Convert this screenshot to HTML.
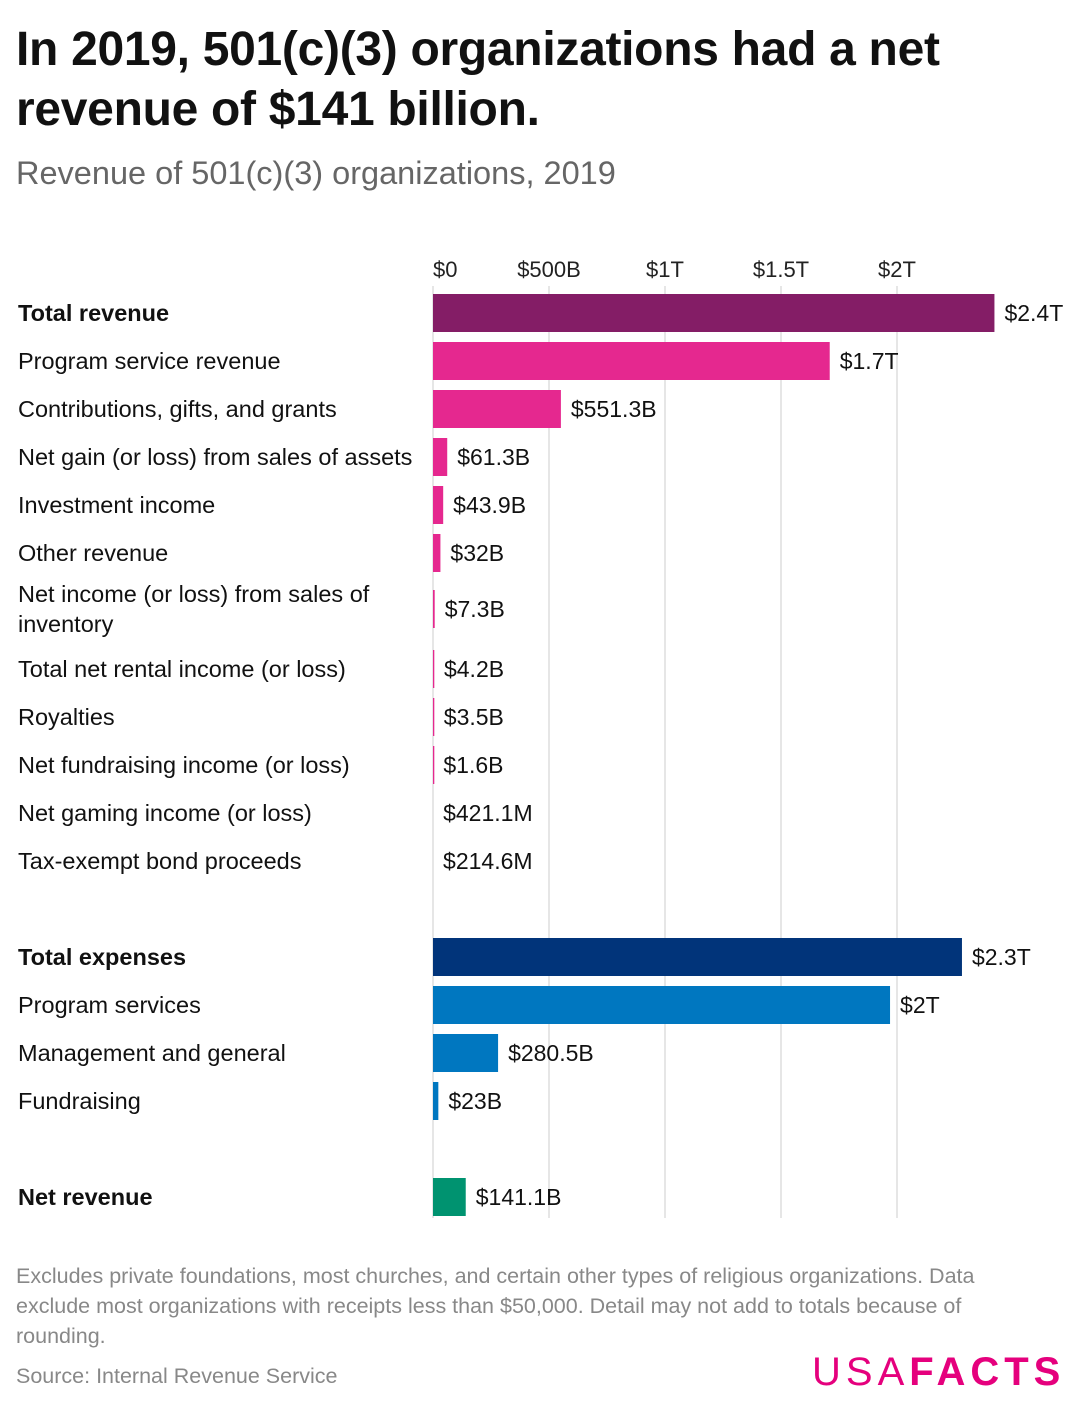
<!DOCTYPE html>
<html><head><meta charset="utf-8"><style>
body{margin:0;width:1080px;height:1410px;background:#fff;font-family:"Liberation Sans",sans-serif;position:relative;overflow:hidden}
.t{position:absolute;left:16px;top:20px;font-size:48px;font-weight:bold;line-height:60px;color:#111;letter-spacing:-0.3px}
.s{position:absolute;left:16px;top:155px;font-size:32.5px;color:#666}
.f{position:absolute;left:16px;top:1261px;font-size:21.5px;line-height:30px;color:#888;width:1010px}
.src{position:absolute;left:16px;top:1364px;font-size:21.5px;color:#888}
.logo{position:absolute;left:812px;top:1350px;font-size:40px;color:#e5007d;letter-spacing:5px}
</style></head><body>
<div class="t">In 2019, 501(c)(3) organizations had a net<br>revenue of $141 billion.</div>
<div class="s">Revenue of 501(c)(3) organizations, 2019</div>
<svg id="c" width="1080" height="1250" style="position:absolute;left:0;top:0"></svg>
<div class="f">Excludes private foundations, most churches, and certain other types of religious organizations. Data exclude most organizations with receipts less than $50,000. Detail may not add to totals because of rounding.</div>
<div class="src">Source: Internal Revenue Service</div>
<div class="logo"><span style="font-weight:300">USA</span><span style="font-weight:bold">FACTS</span></div>
<script>
const labels=["Total revenue","Program service revenue","Contributions, gifts, and grants","Net gain (or loss) from sales of assets","Investment income","Other revenue","Net income (or loss) from sales of|inventory","Total net rental income (or loss)","Royalties","Net fundraising income (or loss)","Net gaming income (or loss)","Tax-exempt bond proceeds","Total expenses","Program services","Management and general","Fundraising","Net revenue"];
const values=[2420,1710,551.3,61.3,43.9,32,7.3,4.2,3.5,1.6,0.4211,0.2146,2280,1970,280.5,23,141.1];
const valueLabels=["$2.4T","$1.7T","$551.3B","$61.3B","$43.9B","$32B","$7.3B","$4.2B","$3.5B","$1.6B","$421.1M","$214.6M","$2.3T","$2T","$280.5B","$23B","$141.1B"];
const colorGroup=["tot","rev","rev","rev","rev","rev","rev","rev","rev","rev","rev","rev","exptot","exp","exp","exp","net"];
const boldRows=[0,12,16];
const ticks=[0,500,1000,1500,2000];
const tickLabels=["$0","$500B","$1T","$1.5T","$2T"];
const palette={tot:"#841d66",rev:"#e5288f",exptot:"#01347a",exp:"#0077c0",net:"#009370"};
const svg=document.getElementById('c');const NS="http://www.w3.org/2000/svg";
const x=v=>433+v*0.232;
function mk(t,a,txt){const e=document.createElementNS(NS,t);for(const k in a)e.setAttribute(k,a[k]);if(txt!==undefined)e.textContent=txt;svg.appendChild(e);return e;}
ticks.forEach((t,i)=>{
 const g=mk('line',{x1:x(t),x2:x(t),y1:286,y2:1218,stroke:"#ddd","stroke-width":1.5});
 
 
 const l=mk('text',{x:x(t),y:277,"text-anchor":i==0?"start":"middle","font-size":22,fill:"#222"},tickLabels[i]);
 
 
});
let y=289;
labels.forEach((lab,i)=>{
 if(i==12||i==16)y+=48;
 const two=lab.includes('|');const h=two?68:48;const cy=y+h/2+(two?-2:0);
 const w=Math.max(x(values[i])-433,0);
 if(w>0.3){const r=mk('rect',{x:433,y:cy-19,width:Math.max(w,1.3),height:38,fill:palette[colorGroup[i]]});
 
 }
 const parts=lab.split('|');
 parts.forEach((p,j)=>{const t=mk('text',{x:18,y:cy+8+(two?(j-0.5)*30:0),"font-size":23.5,fill:"#111","font-weight":boldRows.includes(i)?"bold":"normal"},p);
 
 });
 const v=mk('text',{x:433+w+10,y:cy+8,"font-size":23,fill:"#111"},valueLabels[i]);
 
 
 y+=h;
});
</script>
</body></html>
